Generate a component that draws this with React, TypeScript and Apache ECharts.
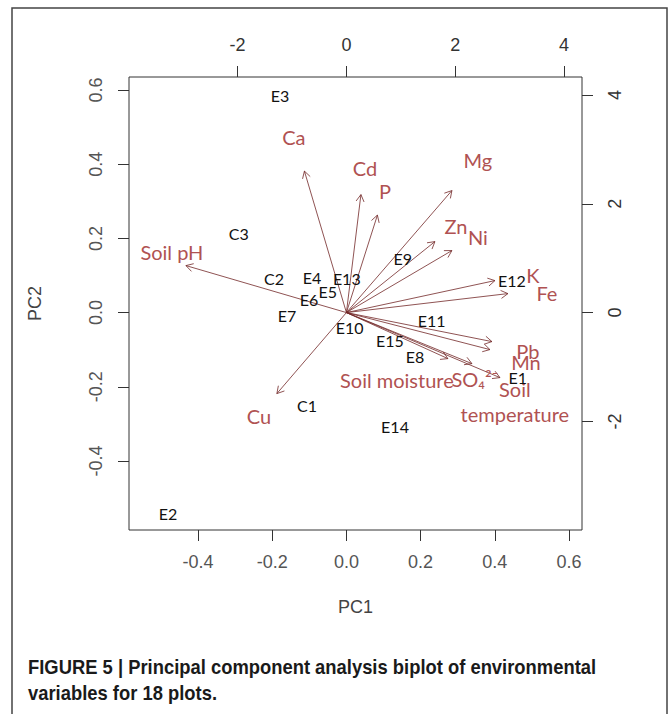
import React, { useEffect, useRef } from "react";
import * as echarts from "echarts";

// ---- axis ranges & ticks ----
const PC_RANGE = [-0.586, 0.635];
const AXIS_RATIO = 6.82; // loadings axis (top/right) units per PC score unit
const pcTicks = [-0.4, -0.2, 0, 0.2, 0.4, 0.6];
const loadingTicks = [-2, 0, 2, 4];

// ---- sample (plot) scores ----
const sampleNames = ["E1", "E2", "E3", "E4", "E5", "E6", "E7", "E8", "E9", "E10", "E11", "E12", "E13", "E14", "E15", "C1", "C2", "C3"];
const samplePC1 = [0.462, -0.481, -0.179, -0.093, -0.05, -0.101, -0.16, 0.185, 0.152, 0.009, 0.23, 0.446, 0.001, 0.131, 0.117, -0.106, -0.195, -0.29];
const samplePC2 = [-0.175, -0.542, 0.585, 0.094, 0.057, 0.035, -0.008, -0.119, 0.146, -0.04, -0.022, 0.086, 0.092, -0.307, -0.075, -0.251, 0.092, 0.213];

// ---- environmental variable loadings (arrow tips) ----
const variableNames = ["Ca", "Cd", "P", "Mg", "Zn", "Ni", "K", "Fe", "Soil pH", "Cu", "Pb", "Mn", "Soil moisture", "SO₄²⁻", "Soil\ntemperature"];
const loadingPC1 = [-0.772, 0.267, 0.57, 1.939, 1.627, 1.939, 2.73, 2.969, -2.95, -1.278, 2.675, 2.638, 1.866, 2.307, 2.822];
const loadingPC2 = [2.601, 2.169, 1.792, 2.243, 1.305, 1.14, 0.588, 0.349, 0.864, -1.489, -0.533, -0.68, -0.846, -0.938, -1.195];
// label anchor positions for the variable names
const labelPC1 = [-0.965, 0.34, 0.708, 2.417, 2.013, 2.417, 3.428, 3.686, -3.208, -1.608, 3.336, 3.3, 0.928, 2.362, 3.097];
const labelPC2 = [3.235, 2.665, 2.243, 2.813, 1.599, 1.397, 0.699, 0.368, 1.121, -1.893, -0.699, -0.901, -1.232, -1.213, -1.627];

const captionLine1 = "FIGURE 5 | Principal component analysis biplot of environmental";
const captionLine2 = "variables for 18 plots.";

const AXIS_FONT = "Liberation Sans";
const ARROW_COLOR = "rgba(115, 40, 40, 0.8)";
const VAR_COLOR = "#b05252";

export default function App() {
  const ref = useRef<HTMLDivElement>(null);

  useEffect(() => {
    if (!ref.current) return;
    const chart = echarts.init(ref.current, undefined, { renderer: "svg" });
    const loadRange = [PC_RANGE[0] * AXIS_RATIO, PC_RANGE[1] * AXIS_RATIO];

    const tickStyle = { show: true, length: 11, inside: false, lineStyle: { color: "#333", width: 1 } };
    const noLine = { show: false, onZero: false };

    const option: any = {
      animation: false,
      backgroundColor: "#fff",
      grid: {
        left: 129,
        top: 77,
        width: 453,
        height: 453,
        show: true,
        borderColor: "#333",
        borderWidth: 1,
        backgroundColor: "transparent",
      },
      xAxis: [
        {
          type: "value",
          position: "bottom",
          min: PC_RANGE[0],
          max: PC_RANGE[1],
          axisLine: noLine,
          splitLine: { show: false },
          axisTick: { ...tickStyle, customValues: pcTicks },
          axisLabel: {
            customValues: pcTicks,
            formatter: (v: number) => v.toFixed(1),
            margin: 23,
            color: "#555",
            fontSize: 18,
            fontFamily: AXIS_FONT,
          },
          name: "PC1",
          nameLocation: "middle",
          nameGap: 68,
          nameTextStyle: { color: "#444", fontSize: 18, fontFamily: AXIS_FONT },
        },
        {
          type: "value",
          position: "top",
          min: loadRange[0],
          max: loadRange[1],
          axisLine: noLine,
          splitLine: { show: false },
          axisTick: { ...tickStyle, customValues: loadingTicks },
          axisLabel: {
            customValues: loadingTicks,
            formatter: (v: number) => String(v),
            margin: 23,
            color: "#333",
            fontSize: 18,
            fontFamily: AXIS_FONT,
          },
        },
      ],
      yAxis: [
        {
          type: "value",
          position: "left",
          min: PC_RANGE[0],
          max: PC_RANGE[1],
          axisLine: noLine,
          splitLine: { show: false },
          axisTick: { ...tickStyle, customValues: pcTicks },
          axisLabel: {
            customValues: pcTicks,
            formatter: (v: number) => v.toFixed(1),
            rotate: 90,
            margin: 24,
            color: "#555",
            fontSize: 18,
            fontFamily: AXIS_FONT,
          },
          name: "PC2",
          nameLocation: "middle",
          nameGap: 85,
          nameTextStyle: { color: "#444", fontSize: 18, fontFamily: AXIS_FONT },
        },
        {
          type: "value",
          position: "right",
          min: loadRange[0],
          max: loadRange[1],
          axisLine: noLine,
          splitLine: { show: false },
          axisTick: { ...tickStyle, customValues: loadingTicks },
          axisLabel: {
            customValues: loadingTicks,
            formatter: (v: number) => String(v),
            rotate: 90,
            margin: 24,
            color: "#333",
            fontSize: 18,
            fontFamily: AXIS_FONT,
          },
        },
      ],
      series: [
        {
          type: "custom",
          name: "arrows",
          xAxisIndex: 1,
          yAxisIndex: 1,
          data: loadingPC1.map((u, i) => [u, loadingPC2[i]]),
          encode: { x: 0, y: 1 },
          renderItem: (params: any, api: any) => {
            const o = api.coord([0, 0]);
            const t = api.coord([api.value(0), api.value(1)]);
            const ang = Math.atan2(t[1] - o[1], t[0] - o[0]);
            const L = 8;
            const a1 = ang + Math.PI - Math.PI / 6;
            const a2 = ang + Math.PI + Math.PI / 6;
            return {
              type: "group",
              children: [
                {
                  type: "line",
                  shape: { x1: o[0], y1: o[1], x2: t[0], y2: t[1] },
                  style: { stroke: ARROW_COLOR, lineWidth: 1 },
                },
                {
                  type: "polyline",
                  shape: {
                    points: [
                      [t[0] + L * Math.cos(a1), t[1] + L * Math.sin(a1)],
                      [t[0], t[1]],
                      [t[0] + L * Math.cos(a2), t[1] + L * Math.sin(a2)],
                    ],
                  },
                  style: { stroke: ARROW_COLOR, lineWidth: 1, fill: "none" },
                },
              ],
            };
          },
        },
        {
          type: "custom",
          name: "variables",
          xAxisIndex: 1,
          yAxisIndex: 1,
          data: labelPC1.map((u, i) => [u, labelPC2[i]]),
          encode: { x: 0, y: 1 },
          renderItem: (params: any, api: any) => {
            const p = api.coord([api.value(0), api.value(1)]);
            return {
              type: "text",
              x: p[0],
              y: p[1],
              style: {
                text: variableNames[params.dataIndex],
                fill: VAR_COLOR,
                fontSize: 20,
                fontFamily: "Lato",
                align: "center",
                verticalAlign: "middle",
                lineHeight: 25,
              },
            };
          },
        },
        {
          type: "custom",
          name: "plots",
          xAxisIndex: 0,
          yAxisIndex: 0,
          data: samplePC1.map((x, i) => [x, samplePC2[i]]),
          encode: { x: 0, y: 1 },
          renderItem: (params: any, api: any) => {
            const p = api.coord([api.value(0), api.value(1)]);
            return {
              type: "text",
              x: p[0],
              y: p[1],
              style: {
                text: sampleNames[params.dataIndex],
                fill: "#111",
                fontSize: 16,
                fontFamily: "Lato",
                align: "center",
                verticalAlign: "middle",
              },
            };
          },
        },
      ],
      graphic: [
        {
          type: "polyline",
          shape: { points: [[12, 714], [12, 8], [667, 8], [667, 714]] },
          style: { stroke: "#444", lineWidth: 1.5, fill: "none" },
          silent: true,
        },
        {
          type: "text",
          x: 28,
          y: 667,
          scaleX: 0.92,
          style: {
            text: captionLine1,
            fill: "#1a1a1a",
            fontSize: 20,
            fontWeight: "bold",
            fontFamily: AXIS_FONT,
            verticalAlign: "middle",
          },
        },
        {
          type: "text",
          x: 28,
          y: 693,
          scaleX: 0.92,
          style: {
            text: captionLine2,
            fill: "#1a1a1a",
            fontSize: 20,
            fontWeight: "bold",
            fontFamily: AXIS_FONT,
            verticalAlign: "middle",
          },
        },
      ],
    };

    chart.setOption(option);
    return () => chart.dispose();
  }, []);

  return (
    <div
      ref={ref}
      style={{ position: "absolute", left: 0, top: 0, width: 670, height: 714, background: "#fff" }}
    />
  );
}
